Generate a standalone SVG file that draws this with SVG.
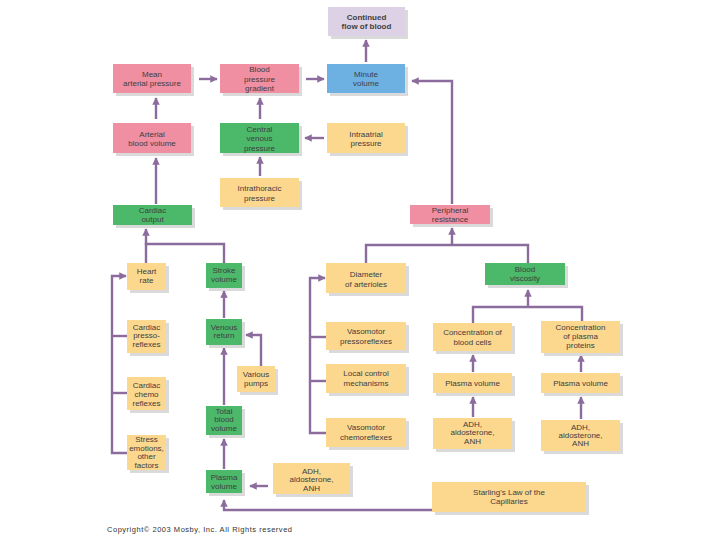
<svg xmlns="http://www.w3.org/2000/svg" width="720" height="540" viewBox="0 0 720 540">
<style>
.sh{fill:#dadada}
.pink{fill:#f08ea2}
.green{fill:#4cb86a}
.blue{fill:#6db1e3}
.yellow{fill:#fcd78e}
.lav{fill:#ddd1e6}
text{font-family:"Liberation Sans",Arial,sans-serif;font-size:8px;fill:#404040;text-anchor:middle}
.b{font-weight:bold}
.cp{text-anchor:start;font-size:7.5px;fill:#333}
#connectors path{stroke:#8c6c9c;stroke-width:2.4;fill:none}
.ar{marker-end:url(#ah)}
</style>
<defs>
<marker id="ah" viewBox="0 0 10 10" refX="9" refY="5" markerWidth="7.5" markerHeight="7.5" orient="auto" markerUnits="userSpaceOnUse">
<path d="M0,0 L10,5 L0,10 z" fill="#8c6c9c"/>
</marker>
</defs>
<rect width="720" height="540" fill="#ffffff"/>

<g id="connectors">
<path class="ar" d="M366,62 L366,40"/>
<path class="ar" d="M199,79 L217,79"/>
<path class="ar" d="M306,79 L324,79"/>
<path class="ar" d="M156,119 L156,98"/>
<path class="ar" d="M260,119 L260,98"/>
<path class="ar" d="M324,138 L305,138"/>
<path class="ar" d="M260,176 L260,157"/>
<path class="ar" d="M156,204 L156,158"/>
<path class="ar" d="M452,204 L452,81 L412,81"/>
<path d="M146,263 L146,244 L224,244 L224,263"/>
<path class="ar" d="M146,245 L146,229"/>
<path d="M366,263 L366,245 L528,245 L528,263"/>
<path class="ar" d="M452,246 L452,228"/>
<path class="ar" d="M127,453 L112,453 L112,276 L126,276"/>
<path d="M127,336 L112,336"/>
<path d="M127,393 L112,393"/>
<path class="ar" d="M326,433 L310,433 L310,278 L325,278"/>
<path d="M326,337 L310,337"/>
<path d="M326,381 L310,381"/>
<path class="ar" d="M224,318 L224,291"/>
<path class="ar" d="M224,405 L224,348"/>
<path class="ar" d="M224,469 L224,439"/>
<path class="ar" d="M261,366 L261,335 L246,335"/>
<path class="ar" d="M268,486 L250,486"/>
<path class="ar" d="M432,510 L224,510 L224,500"/>
<path d="M473,323 L473,307 L582,307 L582,321"/>
<path class="ar" d="M528,308 L528,290"/>
<path class="ar" d="M473,372 L473,355"/>
<path class="ar" d="M581,372 L581,355"/>
<path class="ar" d="M473,417 L473,397"/>
<path class="ar" d="M581,419 L581,397"/>
</g>

<g id="continued-flow">
<rect class="sh" x="331" y="10" width="77" height="29"/>
<rect class="lav" x="328" y="7" width="77" height="29"/>
<text class="b" x="366.5" y="20">Continued</text>
<text class="b" x="366.5" y="29">flow of blood</text>
</g>

<g id="mean-arterial-pressure">
<rect class="sh" x="116" y="67" width="78" height="29"/>
<rect class="pink" x="113" y="64" width="78" height="29"/>
<text x="152" y="77">Mean</text>
<text x="152" y="86">arterial pressure</text>
</g>

<g id="blood-pressure-gradient">
<rect class="sh" x="223" y="67" width="79" height="29"/>
<rect class="pink" x="220" y="64" width="79" height="29"/>
<text x="259.5" y="72">Blood</text>
<text x="259.5" y="81.5">pressure</text>
<text x="259.5" y="91">gradient</text>
</g>

<g id="minute-volume">
<rect class="sh" x="330" y="67" width="78" height="29"/>
<rect class="blue" x="327" y="64" width="78" height="29"/>
<text x="366" y="77">Minute</text>
<text x="366" y="86">volume</text>
</g>

<g id="arterial-blood-volume">
<rect class="sh" x="116" y="126" width="78" height="30"/>
<rect class="pink" x="113" y="123" width="78" height="30"/>
<text x="152" y="137">Arterial</text>
<text x="152" y="146">blood volume</text>
</g>

<g id="central-venous-pressure">
<rect class="sh" x="223" y="126" width="79" height="30"/>
<rect class="green" x="220" y="123" width="79" height="30"/>
<text x="259.5" y="131.5">Central</text>
<text x="259.5" y="141">venous</text>
<text x="259.5" y="150.5">pressure</text>
</g>

<g id="intraatrial-pressure">
<rect class="sh" x="330" y="126" width="78" height="30"/>
<rect class="yellow" x="327" y="123" width="78" height="30"/>
<text x="366" y="137">Intraatrial</text>
<text x="366" y="146">pressure</text>
</g>

<g id="intrathoracic-pressure">
<rect class="sh" x="223" y="181" width="79" height="29"/>
<rect class="yellow" x="220" y="178" width="79" height="29"/>
<text x="259.5" y="191">Intrathoracic</text>
<text x="259.5" y="200.5">pressure</text>
</g>

<g id="cardiac-output">
<rect class="sh" x="116" y="208" width="79" height="20"/>
<rect class="green" x="113" y="205" width="79" height="20"/>
<text x="152.5" y="213">Cardiac</text>
<text x="152.5" y="222">output</text>
</g>

<g id="peripheral-resistance">
<rect class="sh" x="413" y="208" width="80" height="19"/>
<rect class="pink" x="410" y="205" width="80" height="19"/>
<text x="450" y="212.5">Peripheral</text>
<text x="450" y="221.5">resistance</text>
</g>

<g id="heart-rate">
<rect class="sh" x="130" y="266" width="39" height="27"/>
<rect class="yellow" x="127" y="263" width="39" height="27"/>
<text x="146.5" y="273.5">Heart</text>
<text x="146.5" y="282.5">rate</text>
</g>

<g id="stroke-volume">
<rect class="sh" x="209" y="266" width="36" height="25"/>
<rect class="green" x="206" y="263" width="36" height="25"/>
<text x="224" y="273">Stroke</text>
<text x="224" y="282">volume</text>
</g>

<g id="cardiac-pressoreflexes">
<rect class="sh" x="130" y="323" width="39" height="33"/>
<rect class="yellow" x="127" y="320" width="39" height="33"/>
<text x="146.5" y="329.5">Cardiac</text>
<text x="146.5" y="338">presso-</text>
<text x="146.5" y="346.5">reflexes</text>
</g>

<g id="venous-return">
<rect class="sh" x="209" y="322" width="36" height="26"/>
<rect class="green" x="206" y="319" width="36" height="26"/>
<text x="224" y="329.5">Venous</text>
<text x="224" y="338">return</text>
</g>

<g id="cardiac-chemoreflexes">
<rect class="sh" x="130" y="380" width="39" height="33"/>
<rect class="yellow" x="127" y="377" width="39" height="33"/>
<text x="146.5" y="387.5">Cardiac</text>
<text x="146.5" y="396.5">chemo</text>
<text x="146.5" y="405.5">reflexes</text>
</g>

<g id="various-pumps">
<rect class="sh" x="240" y="369" width="38" height="26"/>
<rect class="yellow" x="237" y="366" width="38" height="26"/>
<text x="256" y="377">Various</text>
<text x="256" y="386">pumps</text>
</g>

<g id="stress-emotions">
<rect class="sh" x="130" y="438" width="39" height="35"/>
<rect class="yellow" x="127" y="435" width="39" height="35"/>
<text x="146.5" y="442">Stress</text>
<text x="146.5" y="450.5">emotions,</text>
<text x="146.5" y="459">other</text>
<text x="146.5" y="467.5">factors</text>
</g>

<g id="total-blood-volume">
<rect class="sh" x="209" y="409" width="36" height="29"/>
<rect class="green" x="206" y="406" width="36" height="29"/>
<text x="224" y="413.5">Total</text>
<text x="224" y="422">blood</text>
<text x="224" y="431">volume</text>
</g>

<g id="plasma-volume-left">
<rect class="sh" x="209" y="473" width="36" height="23"/>
<rect class="green" x="206" y="470" width="36" height="23"/>
<text x="224" y="479.5">Plasma</text>
<text x="224" y="488.5">volume</text>
</g>

<g id="adh-left">
<rect class="sh" x="276" y="466" width="77" height="31"/>
<rect class="yellow" x="273" y="463" width="77" height="31"/>
<text x="311.5" y="473.5">ADH,</text>
<text x="311.5" y="482">aldosterone,</text>
<text x="311.5" y="490.5">ANH</text>
</g>

<g id="diameter-of-arterioles">
<rect class="sh" x="329" y="266" width="80" height="30"/>
<rect class="yellow" x="326" y="263" width="80" height="30"/>
<text x="366" y="277">Diameter</text>
<text x="366" y="286.5">of arterioles</text>
</g>

<g id="vasomotor-pressoreflexes">
<rect class="sh" x="329" y="325" width="80" height="28"/>
<rect class="yellow" x="326" y="322" width="80" height="28"/>
<text x="366" y="334">Vasomotor</text>
<text x="366" y="343.5">pressoreflexes</text>
</g>

<g id="local-control-mechanisms">
<rect class="sh" x="329" y="367" width="80" height="29"/>
<rect class="yellow" x="326" y="364" width="80" height="29"/>
<text x="366" y="376">Local control</text>
<text x="366" y="385.5">mechanisms</text>
</g>

<g id="vasomotor-chemoreflexes">
<rect class="sh" x="329" y="421" width="80" height="29"/>
<rect class="yellow" x="326" y="418" width="80" height="29"/>
<text x="366" y="430">Vasomotor</text>
<text x="366" y="439.5">chemoreflexes</text>
</g>

<g id="blood-viscosity">
<rect class="sh" x="488" y="266" width="80" height="22"/>
<rect class="green" x="485" y="263" width="80" height="22"/>
<text x="525" y="272">Blood</text>
<text x="525" y="281">viscosity</text>
</g>

<g id="concentration-blood-cells">
<rect class="sh" x="436" y="326" width="79" height="28"/>
<rect class="yellow" x="433" y="323" width="79" height="28"/>
<text x="472.5" y="335">Concentration of</text>
<text x="472.5" y="344.5">blood cells</text>
</g>

<g id="concentration-plasma-proteins">
<rect class="sh" x="544" y="324" width="79" height="32"/>
<rect class="yellow" x="541" y="321" width="79" height="32"/>
<text x="580.5" y="330">Concentration</text>
<text x="580.5" y="339">of plasma</text>
<text x="580.5" y="348">proteins</text>
</g>

<g id="plasma-volume-mid">
<rect class="sh" x="436" y="376" width="79" height="20"/>
<rect class="yellow" x="433" y="373" width="79" height="20"/>
<text x="472.5" y="386">Plasma volume</text>
</g>

<g id="plasma-volume-right">
<rect class="sh" x="544" y="376" width="79" height="20"/>
<rect class="yellow" x="541" y="373" width="79" height="20"/>
<text x="580.5" y="386">Plasma volume</text>
</g>

<g id="adh-mid">
<rect class="sh" x="436" y="421" width="79" height="31"/>
<rect class="yellow" x="433" y="418" width="79" height="31"/>
<text x="472.5" y="427">ADH,</text>
<text x="472.5" y="435">aldosterone,</text>
<text x="472.5" y="443.5">ANH</text>
</g>

<g id="adh-right">
<rect class="sh" x="544" y="423" width="79" height="31"/>
<rect class="yellow" x="541" y="420" width="79" height="31"/>
<text x="580.5" y="429.5">ADH,</text>
<text x="580.5" y="437.5">aldosterone,</text>
<text x="580.5" y="446">ANH</text>
</g>

<g id="starlings-law">
<rect class="sh" x="435" y="485" width="154" height="30"/>
<rect class="yellow" x="432" y="482" width="154" height="30"/>
<text x="509" y="495">Starling's Law of the</text>
<text x="509" y="504">Capillaries</text>
</g>

<text class="cp" x="107" y="532" textLength="185" lengthAdjust="spacing">Copyright© 2003 Mosby, Inc. All Rights reserved</text>
</svg>
